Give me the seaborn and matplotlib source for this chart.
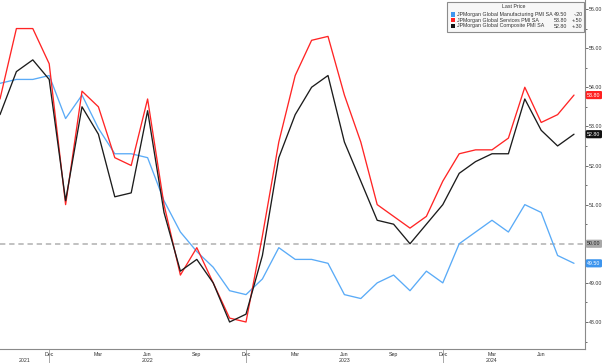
import matplotlib
matplotlib.use("Agg")
import matplotlib.pyplot as plt
import matplotlib.transforms as mtransforms
from matplotlib.patches import Rectangle
import seaborn as sns
import pandas as pd
import numpy as np

# ---------------- data ----------------
months = pd.date_range("2021-09-01", "2024-08-01", freq="MS")
manufacturing = [54.1, 54.2, 54.2, 54.3,
                 53.2, 53.8, 52.95, 52.3, 52.3, 52.2, 51.1, 50.3, 49.8, 49.4, 48.8, 48.7,
                 49.1, 49.9, 49.6, 49.6, 49.5, 48.7, 48.6, 49.0, 49.2, 48.8, 49.3, 49.0,
                 50.0, 50.3, 50.6, 50.3, 51.0, 50.8, 49.7, 49.5]
services = [53.7, 55.5, 55.5, 54.6,
            51.0, 53.9, 53.5, 52.2, 52.0, 53.7, 51.0, 49.2, 49.9, 49.0, 48.1, 48.0,
            50.2, 52.6, 54.3, 55.2, 55.3, 53.8, 52.6, 51.0, 50.7, 50.4, 50.7, 51.6,
            52.3, 52.4, 52.4, 52.7, 54.0, 53.1, 53.3, 53.8]
composite = [53.3, 54.4, 54.7, 54.2,
             51.1, 53.5, 52.8, 51.2, 51.3, 53.4, 50.8, 49.3, 49.6, 49.0, 48.0, 48.2,
             49.7, 52.2, 53.3, 54.0, 54.3, 52.6, 51.6, 50.6, 50.5, 50.0, 50.5, 51.0,
             51.8, 52.1, 52.3, 52.3, 53.7, 52.9, 52.5, 52.8]
series_names = ["JPMorgan Global Manufacturing PMI SA",
                "JPMorgan Global Services PMI SA",
                "JPMorgan Global Composite PMI SA"]
last_values = ["49.50", "53.80", "52.80"]
changes = ["-.20", "+.50", "+.30"]
month_ticks = ["Dec", "Mar", "Jun", "Sep", "Dec", "Mar", "Jun", "Sep", "Dec", "Mar", "Jun"]
year_labels = ["2021", "2022", "2023", "2024"]
y_ticks = [48, 49, 50, 51, 52, 53, 54, 55, 56]
reference_level = 50.0

colors = ["#5aabf7", "#ff2525", "#1c1c1c"]

# ---------------- frame ----------------
idx = np.arange(len(months))
df = pd.concat([
    pd.DataFrame({"idx": idx, "value": manufacturing, "series": series_names[0]}),
    pd.DataFrame({"idx": idx, "value": services, "series": series_names[1]}),
    pd.DataFrame({"idx": idx, "value": composite, "series": series_names[2]}),
])

sns.set_style("white")
plt.rcParams["font.family"] = ["Liberation Sans", "DejaVu Sans"]

W, H = 602, 363
fig = plt.figure(figsize=(W / 100, H / 100), dpi=100)
ax = fig.add_axes([0, 14 / H, 585 / W, 349 / H])

sns.lineplot(data=df, x="idx", y="value", hue="series", palette=colors,
             hue_order=series_names, linewidth=0.95, ax=ax, legend=False)

ax.axhline(reference_level, color="#b0b0b0", lw=1.1, ls=(0, (3.5, 2.5)), zorder=0)

ax.set_xlim(0, 585 / 16.4)
ax.set_ylim(47.31, 56.23)
ax.set_xlabel("")
ax.set_ylabel("")

for s in ["left", "top"]:
    ax.spines[s].set_visible(False)
for s in ["right", "bottom"]:
    ax.spines[s].set_color("#8a8a8a")
    ax.spines[s].set_linewidth(0.8)

# y axis on the right (the 50.00 label is covered by its tag, as in the original)
ax.yaxis.tick_right()
ax.set_yticks(y_ticks)
ax.set_yticklabels(["" if v == reference_level else f"{v:.2f}" for v in y_ticks])
ax.set_yticks(np.arange(47.5, 56.3, 0.5), minor=True)
ax.tick_params(axis="y", which="both", direction="out", length=2, width=0.6,
               colors="#555555", labelsize=3.8, pad=1, labelcolor="#333333")
ax.tick_params(axis="y", which="minor", length=1.5)

# x axis
major_pos = list(range(3, 36, 3))
ax.set_xticks(major_pos)
ax.set_xticklabels(month_ticks)
ax.set_xticks(idx, minor=True)
ax.tick_params(axis="x", which="both", direction="out", length=1.6, width=0.6,
               colors="#555555", labelsize=3.8, pad=0.8, labelcolor="#333333")

# year labels & separators
trans = mtransforms.blended_transform_factory(ax.transData, ax.transAxes)
year_pos = [1.5, 9, 21, 30]
for pos, lab in zip(year_pos, year_labels):
    ax.annotate(lab, xy=(pos, 0), xycoords=trans, xytext=(0, -8.0),
                textcoords="offset points", ha="center", va="center",
                fontsize=3.8, color="#333333", annotation_clip=False)
for pos in [3, 15, 27]:
    ax.plot([pos, pos], [0, -14 / 349], transform=trans, color="#9a9a9a",
            lw=0.6, clip_on=False)

# value tags on the right axis
tag_colors = ["#3d95ee", "#ff2020", "#111111"]
tag_vals = [manufacturing[-1], services[-1], composite[-1]]
for v, c in zip(tag_vals, tag_colors):
    ax.annotate(f"{v:.2f}", xy=(1, v), xycoords=("axes fraction", "data"),
                xytext=(1.6, 0), textcoords="offset points", ha="left", va="center",
                fontsize=3.8, color="white",
                bbox=dict(boxstyle="round,pad=0.3", fc=c, ec="none"),
                annotation_clip=False)
ax.annotate(f"{reference_level:.2f}", xy=(1, reference_level),
            xycoords=("axes fraction", "data"), xytext=(1.6, 0),
            textcoords="offset points", ha="left", va="center", fontsize=3.8,
            color="#222222", bbox=dict(boxstyle="round,pad=0.3", fc="#a8a8a8", ec="none"),
            annotation_clip=False)

# legend box (manual, Bloomberg style)
def fx(x):
    return x / W

def fy(y):
    return 1 - y / H

fig.patches.append(Rectangle((fx(447), fy(32)), fx(584) - fx(447), (32 - 2) / H,
                             transform=fig.transFigure, fc="#f7f7f7", ec="#8c8c8c",
                             lw=0.8, zorder=5))
fig.text(fx(514), fy(7), "Last Price", ha="center", va="center", fontsize=3.8,
         color="#333333", zorder=6)
rows_y = [14.3, 20.1, 26.0]
for ry, name, val, ch, c in zip(rows_y, series_names, last_values, changes, tag_colors):
    fig.patches.append(Rectangle((fx(450.5), fy(ry + 2.2)), 4.5 / W, 4.5 / H,
                                 transform=fig.transFigure, fc=c, ec="none", zorder=6))
    fig.text(fx(457), fy(ry), name, ha="left", va="center", fontsize=3.8,
             color="#333333", zorder=6)
    fig.text(fx(567), fy(ry), val, ha="right", va="center", fontsize=3.8,
             color="#333333", zorder=6)
    fig.text(fx(582.5), fy(ry), ch, ha="right", va="center", fontsize=3.8,
             color="#333333", zorder=6)

fig.savefig("out.png", dpi=100)
